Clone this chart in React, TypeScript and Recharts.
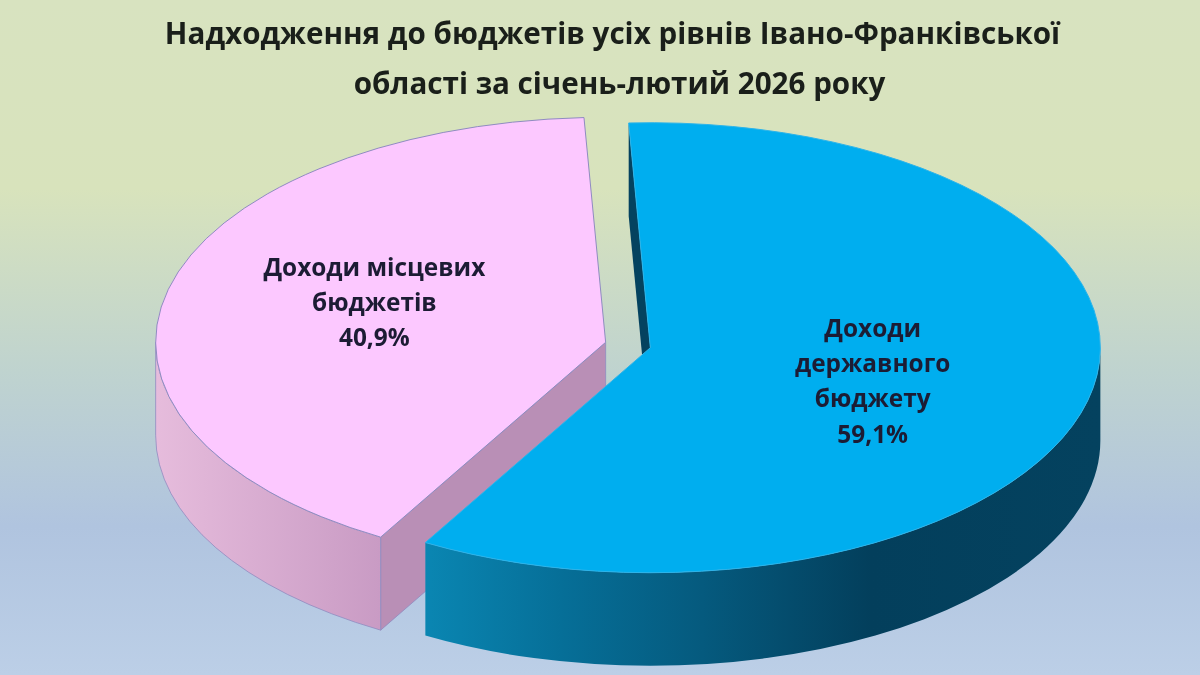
import { PieChart, Pie, Cell } from 'recharts'

const titleLines = ['Надходження до бюджетів усіх рівнів Івано-Франківської', 'області за січень-лютий 2026 року']
const categories = ['Доходи місцевих бюджетів', 'Доходи державного бюджету']
const shares = [40.9, 59.1]
const labelLines = [['Доходи місцевих', 'бюджетів'], ['Доходи', 'державного', 'бюджету']]
const topColors = ['#fcc8ff', '#00aeef']
const edgeColors = ['#8f8cc0', '#2cb4ea']
const wallFills = ['url(#wallPink)', 'url(#wallBlue)']
const cutColors = ['#b98fb6', '#04425f']

const data = categories.map((name, i) => ({ name, value: shares[i] }))

const SQUASH = 0.5
const DEPTH = 93
const EXPLODE = 23
const RAD = Math.PI / 180
const FONT = '"Open Sans", "Noto Sans", sans-serif'

function PieSlice(props: any) {
  const { cx, cy, outerRadius: r, startAngle, endAngle, index } = props
  const ry = r * SQUASH
  const mid = ((startAngle + endAngle) / 2) * RAD
  const ox = cx + EXPLODE * Math.cos(mid)
  const oy = cy - EXPLODE * SQUASH * Math.sin(mid)
  const pt = (deg: number, drop = 0) => {
    const a = deg * RAD
    return `${ox + r * Math.cos(a)} ${oy - ry * Math.sin(a) + drop}`
  }

  // front wall = part of the slice in the lower half of the ellipse
  const walls: string[] = []
  for (const n of [-360, 0, 360]) {
    const hi = Math.min(startAngle, n)
    const lo = Math.max(endAngle, n - 180)
    if (hi > lo) {
      walls.push(
        `M ${pt(hi)} A ${r} ${ry} 0 0 1 ${pt(lo)} L ${pt(lo, DEPTH)} A ${r} ${ry} 0 0 0 ${pt(hi, DEPTH)} Z`,
      )
    }
  }

  // radial cut faces, only those turned towards the viewer
  const apex = `${ox} ${oy}`
  const apexLow = `${ox} ${oy + DEPTH}`
  const cuts: string[] = []
  if (Math.sin((startAngle + 90) * RAD) < 0) {
    cuts.push(`M ${apex} L ${pt(startAngle)} L ${pt(startAngle, DEPTH)} L ${apexLow} Z`)
  }
  if (Math.sin((endAngle - 90) * RAD) < 0) {
    cuts.push(`M ${apex} L ${pt(endAngle)} L ${pt(endAngle, DEPTH)} L ${apexLow} Z`)
  }

  const large = startAngle - endAngle > 180 ? 1 : 0
  const top = `M ${apex} L ${pt(startAngle)} A ${r} ${ry} 0 ${large} 1 ${pt(endAngle)} Z`

  return (
    <g>
      {cuts.map((d) => (
        <path key={d} d={d} fill={cutColors[index]} stroke={index === 0 ? edgeColors[0] : 'none'} strokeWidth={0.8} />
      ))}
      {walls.map((d) => (
        <path key={d} d={d} fill={wallFills[index]} stroke={index === 0 ? edgeColors[0] : 'none'} strokeWidth={0.8} />
      ))}
      <path d={top} fill={topColors[index]} stroke={edgeColors[index]} strokeWidth={1} />
    </g>
  )
}

function SliceLabel(props: any) {
  const { cx, cy, midAngle, outerRadius: r, index } = props
  const isBlue = index === 1
  const x = cx + (isBlue ? 0.555 : 0.58) * r * Math.cos(midAngle * RAD) + (isBlue ? 2 : 0)
  const yTop = isBlue ? cy - 8 : cy - 69
  const lh = isBlue ? 35.2 : 35
  const lines = [...labelLines[index], `${String(shares[index]).replace('.', ',')}%`]
  return (
    <text
      x={x}
      y={yTop}
      textAnchor="middle"
      fontFamily={FONT}
      fontSize={24.4}
      fontWeight={700}
      fill="#1c1c34"
      style={{ filter: 'blur(0.5px)' }}
    >
      {lines.map((line, i) => (
        <tspan key={line} x={x} y={yTop + i * lh}>
          {line}
        </tspan>
      ))}
    </text>
  )
}

export default function App() {
  return (
    <div
      style={{
        position: 'absolute',
        left: 0,
        top: 0,
        width: 1200,
        height: 675,
        overflow: 'hidden',
        background: 'linear-gradient(180deg, #d8e3c0 0%, #d8e3bc 28%, #bfd3cf 55%, #b0c4df 78%, #bccfe7 100%)',
      }}
    >
      <div
        style={{
          position: 'absolute',
          left: 0,
          top: 8,
          width: 1225,
          textAlign: 'center',
          fontFamily: FONT,
          fontSize: 29.6,
          fontWeight: 700,
          lineHeight: '50px',
          color: '#1a1f1a',
          filter: 'blur(0.5px)',
        }}
      >
        {titleLines.map((t, i) => (
          <div key={t} style={{ position: 'relative', left: i * 7 }}>
            {t}
          </div>
        ))}
      </div>
      <PieChart width={1200} height={675} margin={{ top: 0, right: 0, bottom: 0, left: 0 }} style={{ position: 'absolute', left: 0, top: 0 }}>
        <defs>
          <linearGradient id="wallBlue" x1="0" y1="0" x2="1" y2="0">
            <stop offset="0%" stopColor="#0a86b2" />
            <stop offset="20%" stopColor="#066f98" />
            <stop offset="41%" stopColor="#055a7e" />
            <stop offset="66%" stopColor="#033f5c" />
            <stop offset="100%" stopColor="#04425f" />
          </linearGradient>
          <linearGradient id="wallPink" x1="0" y1="0" x2="1" y2="0">
            <stop offset="0%" stopColor="#e6bcdc" />
            <stop offset="100%" stopColor="#c99bc4" />
          </linearGradient>
        </defs>
        <Pie
          data={data}
          dataKey="value"
          nameKey="name"
          cx={628}
          cy={345}
          outerRadius={450}
          startAngle={240}
          endAngle={-120}
          stroke="none"
          shape={PieSlice}
          label={SliceLabel}
          labelLine={false}
          isAnimationActive={false}
        >
          {data.map((d, i) => (
            <Cell key={d.name} fill={topColors[i]} />
          ))}
        </Pie>
      </PieChart>
    </div>
  )
}
